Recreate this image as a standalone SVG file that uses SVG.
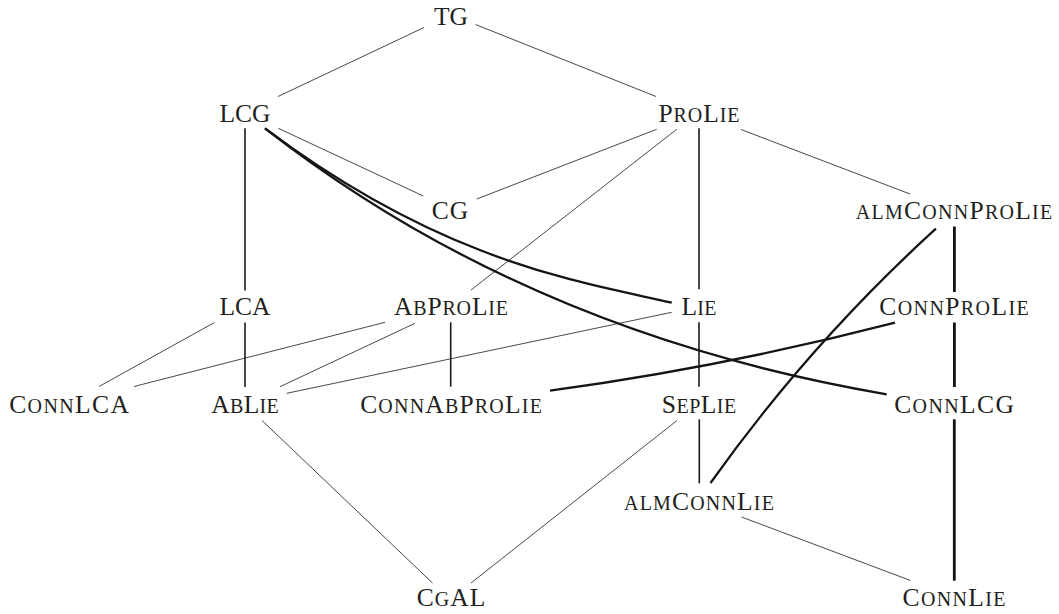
<svg xmlns="http://www.w3.org/2000/svg" width="1059" height="614" viewBox="0 0 1059 614">
<style>
text{font-family:"Liberation Serif","DejaVu Serif",serif;font-size:25.5px;fill:#231f20;text-anchor:middle;font-variant:small-caps}
.s{font-size:28.5px}
.t{stroke:#333;stroke-width:0.9;fill:none}
.m{stroke:#1a1a1a;stroke-width:1.6;fill:none}
.k{stroke:#141414;stroke-width:2.3;fill:none}
.v{stroke:#141414;stroke-width:2.8;fill:none}
</style>
<rect width="1059" height="614" fill="#fff"/>
<g id="edges">
<g class="t">
<line x1="424" y1="27.5" x2="278" y2="96.5"/>
<line x1="475.5" y1="24.5" x2="656" y2="96.5"/>
<line x1="278.3" y1="128.3" x2="423.3" y2="196"/>
<line x1="656.7" y1="129.3" x2="476.7" y2="199"/>
<line x1="676.7" y1="129.3" x2="471" y2="290"/>
<line x1="741" y1="129.5" x2="910" y2="194"/>
<line x1="214.5" y1="322.5" x2="99" y2="386.5"/>
<line x1="385" y1="322.3" x2="134" y2="386.5"/>
<line x1="415" y1="323.3" x2="280" y2="386.7"/>
<line x1="671.7" y1="312.3" x2="286.7" y2="393.3"/>
<line x1="262" y1="420.5" x2="432.5" y2="583"/>
<line x1="677" y1="420.5" x2="471" y2="583"/>
<line x1="741.5" y1="517" x2="910.5" y2="580.5"/>
</g>
<g class="m">
<line x1="245" y1="128.3" x2="245" y2="290.5"/>
<line x1="245" y1="322.5" x2="245" y2="387"/>
<line x1="699" y1="128.3" x2="699" y2="289.3"/>
<line x1="450.7" y1="322.3" x2="450.7" y2="386.7"/>
<line x1="699" y1="322.3" x2="699" y2="386.7"/>
<line x1="699.3" y1="419.3" x2="699.3" y2="483.3"/>
</g>
<g class="v">
<line x1="954.4" y1="226.5" x2="954.4" y2="292"/>
<line x1="954.4" y1="322.5" x2="954.4" y2="387"/>
<line x1="954.3" y1="419.3" x2="954.3" y2="580.7"/>
</g>
<g class="k">
<path d="M265,128.3 C445,263.3 581.7,282 671.7,302.7"/>
<path d="M265,128.3 C445,268.7 656.7,355.2 886.7,394.3"/>
<path d="M935.9,228.7 Q809.5,343.7 710.5,483"/>
<path d="M895,322.7 Q724,367 550,390.7"/>
</g>
</g>
<g id="TG"><text x="451" y="24.5" textLength="34">TG</text></g>
<g id="LCG"><text x="245" y="121.7" textLength="51">LCG</text></g>
<g id="ProLie"><text x="699" y="121.7" textLength="81">P<tspan class="s">ro</tspan>L<tspan class="s">ie</tspan></text></g>
<g id="CG"><text x="450" y="218.5" textLength="36.5">CG</text></g>
<g id="almConnProLie"><text x="954" y="218.5" textLength="196.4"><tspan class="s">alm</tspan>C<tspan class="s">onn</tspan>P<tspan class="s">ro</tspan>L<tspan class="s">ie</tspan></text></g>
<g id="LCA"><text x="245" y="315.3" textLength="50.8">LCA</text></g>
<g id="AbProLie"><text x="451" y="315.3" textLength="114">A<tspan class="s">b</tspan>P<tspan class="s">ro</tspan>L<tspan class="s">ie</tspan></text></g>
<g id="Lie"><text x="699" y="315.3" textLength="35">L<tspan class="s">ie</tspan></text></g>
<g id="ConnProLie"><text x="954" y="315.3" textLength="149.5">C<tspan class="s">onn</tspan>P<tspan class="s">ro</tspan>L<tspan class="s">ie</tspan></text></g>
<g id="ConnLCA"><text x="69" y="412.8" textLength="119.6">C<tspan class="s">onn</tspan>LCA</text></g>
<g id="AbLie"><text x="245" y="412.8" textLength="67.6">A<tspan class="s">b</tspan>L<tspan class="s">ie</tspan></text></g>
<g id="ConnAbProLie"><text x="451" y="412.8" textLength="181.7">C<tspan class="s">onn</tspan>A<tspan class="s">b</tspan>P<tspan class="s">ro</tspan>L<tspan class="s">ie</tspan></text></g>
<g id="SepLie"><text x="699" y="412.8" textLength="74.5">S<tspan class="s">ep</tspan>L<tspan class="s">ie</tspan></text></g>
<g id="ConnLCG"><text x="954" y="412.8" textLength="119.7">C<tspan class="s">onn</tspan>LCG</text></g>
<g id="almConnLie"><text x="699" y="509.5" textLength="149.8"><tspan class="s">alm</tspan>C<tspan class="s">onn</tspan>L<tspan class="s">ie</tspan></text></g>
<g id="CgAL"><text x="451" y="606" textLength="68.6">C<tspan class="s">g</tspan>AL</text></g>
<g id="ConnLie"><text x="954" y="606" textLength="102.9">C<tspan class="s">onn</tspan>L<tspan class="s">ie</tspan></text></g>
</svg>
